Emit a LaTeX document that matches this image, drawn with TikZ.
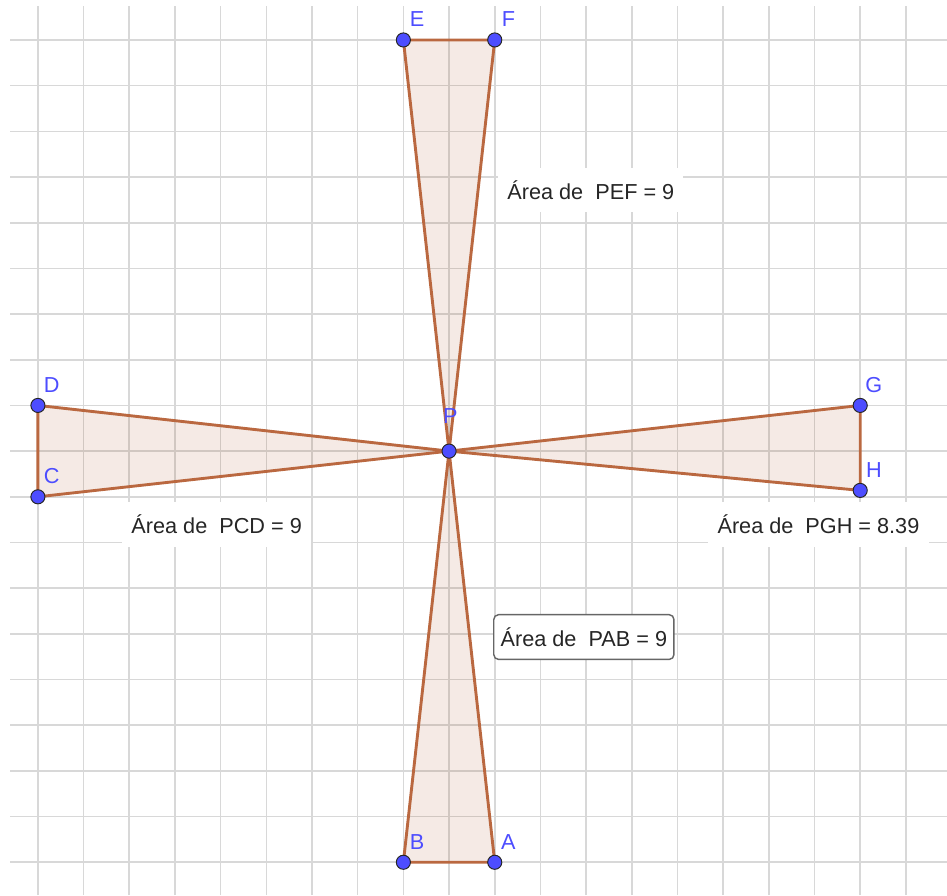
\documentclass[tikz,border=0pt]{standalone}
\usepackage{fontspec}
\newfontfamily\geofont{Liberation Sans}
\definecolor{polyfill}{RGB}{153,51,0}
\definecolor{polyline}{RGB}{186,104,64}
\definecolor{ptblue}{RGB}{77,77,255}
\definecolor{gridgray}{RGB}{216,216,216}
\begin{document}
\begin{tikzpicture}[
  gridline/.style={line width=1pt,color=gridgray},
  tri/.style={line width=1.8pt,draw=polyline,fill=polyfill,fill opacity=0.1,line join=round},
  vpoint/.style={fill=ptblue,draw=black!85,line width=0.6pt},
  vlabel/.style={text=ptblue,font=\geofont\fontsize{13.5}{16}\selectfont,inner sep=0pt},
  areabox/.style={anchor=west,fill=white,text=black!85,inner xsep=0.2cm,inner ysep=0pt,
    minimum height=0.98cm,font=\geofont\fontsize{13.5}{16}\selectfont}
]
\useasboundingbox (-9.83,-9.72) rectangle (10.90,9.875);
% grid
\foreach \x in {-9,...,10}
  \draw[gridline] (\x,-9.72) -- (\x,9.74);
\foreach \y in {-9,...,9}
  \draw[gridline] (-9.61,\y) -- (10.90,\y);

\coordinate (P) at (0,0);
\coordinate (E) at (-1,9);
\coordinate (F) at (1,9);
\coordinate (D) at (-9,1);
\coordinate (C) at (-9,-1);
\coordinate (G) at (9,1);
\coordinate (H) at (9,-0.86);
\coordinate (B) at (-1,-9);
\coordinate (A) at (1,-9);

% triangles
\filldraw[tri] (P) -- (E) -- (F) -- cycle;
\filldraw[tri] (P) -- (C) -- (D) -- cycle;
\filldraw[tri] (P) -- (G) -- (H) -- cycle;
\filldraw[tri] (P) -- (A) -- (B) -- cycle;

% areas
\node[areabox] (aPEF) at (1.07,5.715) {Área de~~PEF = 9};
\node[areabox] (aPCD) at (-7.16,-1.61) {Área de~~PCD = 9};
\node[areabox] (aPGH) at (5.67,-1.61) {Área de~~PGH = 8.39};
\node[areabox,inner xsep=0.15cm,draw=black!60,line width=0.9pt,rounded corners=3pt] (aPAB) at (0.963,-4.07) {Área de~~PAB = 9};

% points
\foreach \p in {P,E,F,D,C,G,H,B,A}
  \filldraw[vpoint] (\p) circle [radius=4.4pt];
\foreach \p in {E,F,D,C,G,H,B,A}
  \node[vlabel,xshift=0.3cm,yshift=0.45cm] (l\p) at (\p) {\p};
\node[vlabel,xshift=0.03cm,yshift=0.76cm] (lP) at (P) {P};
\end{tikzpicture}
\end{document}
